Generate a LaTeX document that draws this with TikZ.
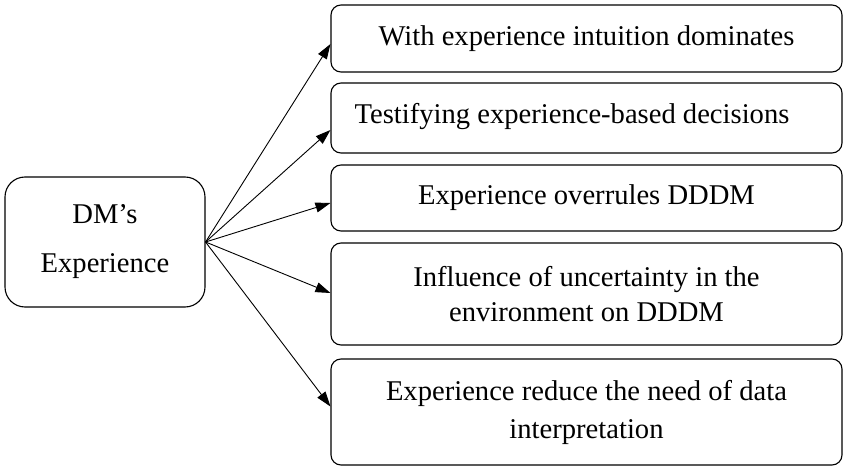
\documentclass[tikz,border=0pt]{standalone}
\usepackage{fontspec}
\setmainfont{Liberation Serif}
\usetikzlibrary{arrows.meta}
\begin{document}
\begin{tikzpicture}[x=1pt,y=-1pt,
  rbox/.style={draw, line width=1.1pt, rounded corners=10pt, inner sep=0pt,
    minimum width=511pt, align=center, font=\fontsize{28.6}{35}\selectfont},
  lbox/.style={draw, line width=1.1pt, rounded corners=20pt, inner sep=0pt,
    minimum width=200pt, minimum height=130pt, align=center, font=\fontsize{28.6}{49}\selectfont},
  conn/.style={line width=0.9pt, -{Triangle[length=15pt,width=10pt]}}]
\useasboundingbox (0,0) rectangle (855,468);
\node[lbox] (dm) at (105,242) {DM’s\\Experience};
\node[rbox, minimum height=67pt] (b1) at (586.5,38.5) {With experience intuition dominates};
\node[rbox, minimum height=70pt] (b2) at (586.5,118) {};
\node[font=\fontsize{28.6}{35}\selectfont, inner sep=0pt] (b2t) at (572,117) {Testifying experience-based decisions};
\node[rbox, minimum height=66pt] (b3) at (586.5,198) {Experience overrules DDDM};
\node[rbox, minimum height=102pt] (b4) at (586.5,294) {Influence of uncertainty in the\\environment on DDDM};
\node[rbox, minimum height=106pt, font=\fontsize{28.6}{38}\selectfont] (b5) at (586.5,412) {Experience reduce the need of data\\interpretation};
\draw[conn] (dm.east) -- ([yshift=-5.5pt]b1.west);
\draw[conn] (dm.east) -- ([yshift=-12pt]b2.west);
\draw[conn] (dm.east) -- ([yshift=-5pt]b3.west);
\draw[conn] (dm.east) -- ([yshift=1pt]b4.west);
\draw[conn] (dm.east) -- ([yshift=5.5pt]b5.west);
\end{tikzpicture}
\end{document}
